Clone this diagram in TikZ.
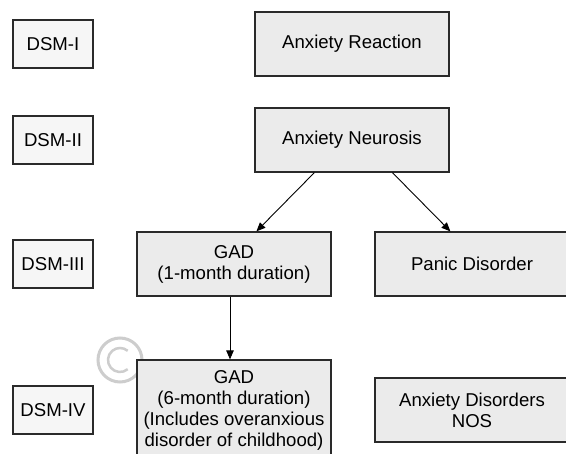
\documentclass[tikz,border=0pt]{standalone}
\usepackage{fontspec}
\setmainfont{Liberation Sans}
\usetikzlibrary{arrows.meta,calc}
\definecolor{dsmfill}{HTML}{F6F6F6}
\definecolor{boxfill}{HTML}{EBEBEB}
\definecolor{edge}{HTML}{2A2A2A}
\definecolor{wm}{HTML}{CDCDCD}
\begin{document}
\begin{tikzpicture}[x=1pt,y=-1pt,
  every node/.style={font=\fontsize{18.6}{21}\selectfont, text=black, align=center, inner sep=0pt},
  dsmbox/.style={draw=edge, line width=1.2pt, fill=dsmfill, minimum width=80pt, minimum height=48pt},
  bigbox/.style={draw=edge, line width=1.2pt, fill=boxfill, minimum width=194pt, minimum height=64pt},
  arr/.style={-{Triangle[length=9pt,width=7.5pt]}, line width=0.9pt, black}]
\useasboundingbox[fill=white] (0,0) rectangle (566,454);
% watermark
\draw[wm, line width=3pt] (120,360) circle (22);
\draw[wm, line width=2.5pt] (120,360) ++(50:12) arc (50:310:12);
% DSM labels
\node[dsmbox] (d1) at (53,44) {DSM-I};
\node[dsmbox] (d2) at (53,140) {DSM-II};
\node[dsmbox] (d3) at (53,264) {DSM-III};
\node[dsmbox] (d4) at (53,410) {DSM-IV};
% diagnoses
\node[bigbox] (react) at (352,44) {Anxiety Reaction};
\node[bigbox] (neur) at (352,140) {Anxiety Neurosis};
\node[bigbox] (gad1) at (234,264) {GAD\\(1-month duration)};
\node[bigbox] (panic) at (472,264) {Panic Disorder};
\node[bigbox, minimum height=100pt] (gad6) at (234,410) {GAD\\(6-month duration)\\(Includes overanxious\\disorder of childhood)};
\node[bigbox] (nos) at (472,410) {Anxiety Disorders\\NOS};
% connectors
\draw[arr] ([xshift=60pt]neur.south west) -- ([xshift=120pt]gad1.north west);
\draw[arr] ([xshift=138pt]neur.south west) -- ([xshift=76pt]panic.north west);
\draw[arr] ([xshift=-4pt]gad1.south) -- ([xshift=-4pt]gad6.north);
\end{tikzpicture}
\end{document}
